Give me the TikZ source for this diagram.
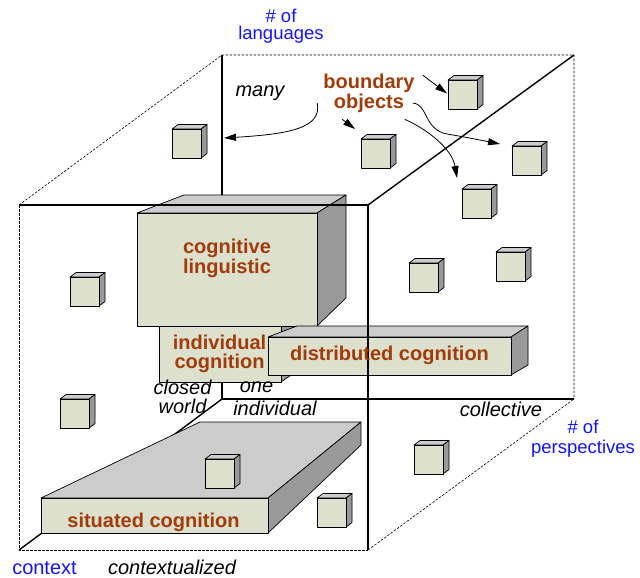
\documentclass[tikz,border=0pt]{standalone}
\usepackage{fontspec}
\setmainfont{Liberation Sans}
\usetikzlibrary{arrows.meta}
\definecolor{frontc}{RGB}{221,224,204}
\definecolor{topc}{RGB}{204,204,204}
\definecolor{sidec}{RGB}{153,153,153}
\definecolor{brownc}{RGB}{160,60,10}
\definecolor{bluec}{RGB}{20,20,255}
\newcommand\minicube[3]{%
  \path[topface] (#2,#3) -- ++(6,-4.5) -- ++(29,0) -- ++(-6,4.5) -- cycle;
  \path[sideface] (#2+29,#3) -- ++(6,-4.5) -- ++(0,29) -- ++(-6,4.5) -- cycle;
  \node[cubefront] (#1) at (#2,#3) {};
}
\begin{document}
\begin{tikzpicture}[x=1pt,y=-1pt,
  axis/.style={line width=1.4pt},
  hidden/.style={line width=0.6pt, dash pattern=on 2.5pt off 1.5pt},
  face/.style={draw=black, line width=0.7pt, line join=round},
  frontface/.style={face, fill=frontc},
  topface/.style={face, fill=topc},
  sideface/.style={face, fill=sidec},
  boxlabel/.style={font=\fontsize{20}{#1}\selectfont\bfseries, text=brownc, inner sep=0pt, align=center, anchor=base},
  boxlabel/.default=20,
  axislabel/.style={font=\fontsize{20}{#1}\selectfont\itshape, inner sep=0pt, anchor=base, align=center},
  axislabel/.default=20,
  dimlabel/.style={font=\fontsize{18.5}{#1}\selectfont, text=bluec, inner sep=0pt, anchor=base, align=center},
  dimlabel/.default=17,
  boarrow/.style={line width=0.8pt, -{Triangle[length=12pt,width=7pt]}},
  cubefront/.style={frontface, minimum size=29pt, inner sep=0pt, outer sep=0pt, anchor=north west},
]
\useasboundingbox (0,0) rectangle (640,578);
% cube corners
\coordinate (FTL) at (19,205);
\coordinate (FTR) at (368,205);
\coordinate (FBL) at (19,550);
\coordinate (FBR) at (368,550);
\coordinate (BTL) at (222,55);
\coordinate (BTR) at (574,55);
\coordinate (BBL) at (222,399);
\coordinate (BBR) at (574,399);
\coordinate (manyend) at (224,138);
% back edges
\draw[hidden] (FTL) -- (BTL) -- (BTR) -- (BBR);
\draw[hidden] (FBR) -- (BBR);
\draw[axis] (BTL) -- (BBL) -- (BBR);
\draw[axis] (FBL) -- (BBL);
\draw[axis] (FTR) -- (BTR);
% small cubes
\minicube{c1}{172}{129}
\minicube{c2}{448}{80}
\minicube{c3}{361}{139}
\minicube{c4}{512}{146}
\minicube{c5}{462}{189}
\minicube{c6}{409}{263}
\minicube{c7}{496}{252}
\minicube{c8}{70}{277}
\minicube{c9}{60}{399}
\minicube{c11}{317}{498}
\minicube{c12}{414}{445}
% individual cognition box
\path[sideface] (281,326) -- (301,312) -- (301,368) -- (281,382) -- cycle;
\path[frontface] (159,326) rectangle (281,382);
% cognitive linguistic box
\path[topface] (137,213) -- (184,195) -- (346,195) -- (317,213) -- cycle;
\path[sideface] (317,213) -- (346,195) -- (346,298) -- (317,326) -- cycle;
\path[frontface] (137,213) rectangle (317,326);
% distributed cognition box
\path[topface] (268,337) -- (297,326) -- (528,326) -- (511,337) -- cycle;
\path[sideface] (511,337) -- (528,326) -- (528,365) -- (511,375) -- cycle;
\path[frontface] (268,337) rectangle (511,375);
% situated cognition slab
\path[topface] (41,498) -- (200,422) -- (361,422) -- (268,498) -- cycle;
\path[sideface] (268,498) -- (361,422) -- (361,445) -- (268,533) -- cycle;
\path[frontface] (41,498) rectangle (268,533);
\minicube{c10}{205}{459}
% front edges
\draw[hidden] (FTL) -- (FBL) -- (FBR);
\draw[axis] (FTL) -- (FTR) -- (FBR);
% labels (base = baseline of the last line)
\node[dimlabel=17] (lang) at (281,40) {\# of\\languages};
\node[dimlabel=20] (persp) at (583,453) {\# of\\perspectives};
\node[axislabel] (many) at (260,96) {many};
\node[boxlabel=15.5] (bo) at (369,108) {boundary\\objects};
\node[boxlabel=16.5] (cogling) at (227,273.5) {cognitive\\linguistic};
\node[boxlabel=19] (indiv) at (219.5,368) {individual\\cognition};
\node[boxlabel] (distr) at (389.5,360) {distributed cognition};
\node[boxlabel] (situ) at (153.5,527) {situated cognition};
\node[axislabel=19] (closed) at (182.5,413) {closed\\world};
\node[axislabel] (one) at (256.5,392) {one};
\node[axislabel] (indivax) at (275,415) {individual};
\node[axislabel] (coll) at (501,416) {collective};
\node[axislabel, font=\fontsize{20}{20}\selectfont, text=bluec] (ctx) at (44.5,574.5) {context};
\node[axislabel] (ctxd) at (172,574.5) {contextualized};
% arrows
\draw[boarrow] ([shift={(8,1.5)}]bo.north east) -- ([shift={(-1,-1)}]c2.west);
\draw[boarrow] ([shift={(19,7)}]bo.south west) -- ([shift={(-6,-10)}]c3.north west);
\draw[boarrow] ([shift={(-2,10)}]bo.east) .. controls (428,104) and (424,130) .. (447,134) .. controls (465,137) and (485,141) .. ([shift={(-12,-2)}]c4.north west);
\draw[boarrow] ([shift={(-10,7)}]bo.south east) .. controls (425,128) and (452,148) .. ([shift={(-5,-11)}]c5.north west);
\draw[boarrow] ([shift={(-6,10)}]bo.west) .. controls (322,128) and (290,134) .. (manyend);
\end{tikzpicture}
\end{document}
